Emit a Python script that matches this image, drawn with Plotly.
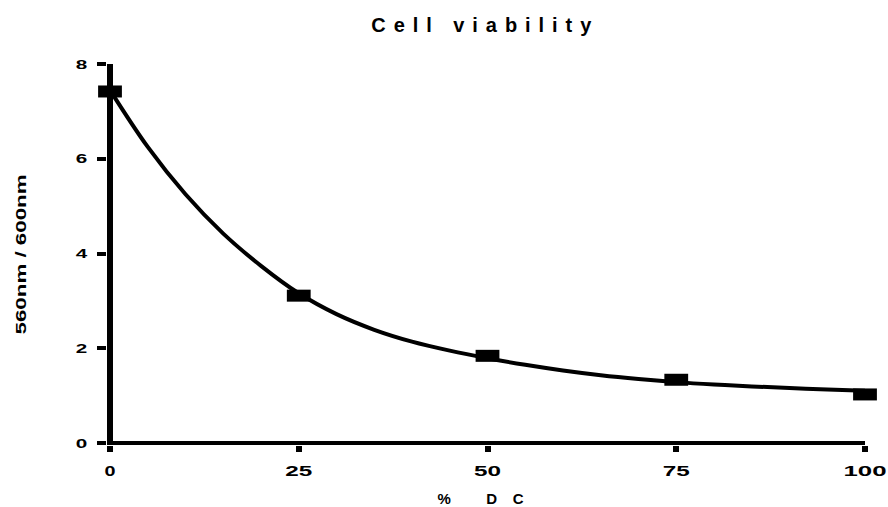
import plotly.graph_objects as go

# ---- data ----
dose = [0, 25, 50, 75, 100]
viability = [7.42, 3.11, 1.84, 1.335, 1.025]

fit_x = [0, 5, 10, 15, 20, 25, 30, 35, 40, 45, 50, 55, 60, 65, 70, 75, 80, 85, 90, 95, 100]
fit_y = [7.45, 6.25, 5.25, 4.42, 3.74, 3.16, 2.72, 2.39, 2.14, 1.95, 1.79, 1.65, 1.53,
         1.43, 1.35, 1.285, 1.235, 1.195, 1.16, 1.13, 1.105]

x_ticks = [0, 25, 50, 75, 100]
y_ticks = [0, 2, 4, 6, 8]

title_text = "Cell viability"
x_title = "% DC"
y_title = "560nm / 600nm"

FONT = "Liberation Sans, Arial, Helvetica, sans-serif"

fig = go.Figure()
fig.add_trace(go.Scatter(
    x=fit_x, y=fit_y, mode="lines",
    line=dict(color="black", width=4, shape="spline", smoothing=1.0),
    hoverinfo="skip", showlegend=False,
))
fig.add_trace(go.Scatter(
    x=dose, y=viability, mode="markers",
    marker=dict(symbol="line-ew", size=17, color="black",
                line=dict(color="black", width=12)),
    cliponaxis=False, showlegend=False,
))

XS = 7.555   # px per x unit
YS = 47.4    # px per y unit

fig.update_layout(
    width=888, height=507,
    paper_bgcolor="white", plot_bgcolor="white",
    margin=dict(l=106.5, r=23, t=63.5, b=62.4, pad=0, autoexpand=False),
    font=dict(family=FONT, color="black", size=14, weight="bold"),
    title=dict(text=title_text, x=0.542, xanchor="center", y=1 - 24.5 / 507,
               yanchor="middle", yref="container",
               font=dict(family=FONT, size=20, color="black", weight="bold")),
    xaxis=dict(
        range=[-3 / XS, 100], tickmode="array", tickvals=x_ticks,
        ticktext=[str(v) for v in x_ticks], automargin=False,
        showline=False, zeroline=True, zerolinecolor="black", zerolinewidth=6,
        ticks="outside", ticklen=6, tickwidth=5.5, tickcolor="black",
        showgrid=False,
        tickfont=dict(family=FONT, size=14, color="black", weight="bold"),
        ticklabelstandoff=7,
    ),
    yaxis=dict(
        range=[-2 / YS, 8], tickmode="array", tickvals=y_ticks,
        ticktext=[str(v) for v in y_ticks], automargin=False,
        showline=False, zeroline=True, zerolinecolor="black", zerolinewidth=4,
        ticks="outside", ticklen=9.2, tickwidth=3.5, tickcolor="black",
        showgrid=False,
        tickfont=dict(family=FONT, size=13, color="black", weight="bold"),
        ticklabelstandoff=7,
        title=dict(text=y_title, standoff=50,
                   font=dict(family=FONT, size=14, color="black", weight="bold")),
    ),
    annotations=[dict(
        text=x_title, xref="paper", yref="paper", x=(480 - 106.5) / 758.5, y=0,
        xanchor="center", yanchor="middle", yshift=-53, showarrow=False,
        font=dict(family=FONT, size=15, color="black", weight="bold"),
    )],
)

post = """
document.body.style.margin = '0';
document.body.style.padding = '0';
var gd = document.getElementById('{plot_id}');
function adj(sel, fn, mode){
  gd.querySelectorAll(sel).forEach(function(t){
    var L = t.getComputedTextLength();
    var n = (t.textContent || '').length;
    var target = fn(L, n);
    t.setAttribute('textLength', target);
    t.setAttribute('lengthAdjust', mode);
  });
}
adj('.xtick text', function(L,n){ return 11 + (n-1)*16; }, 'spacingAndGlyphs');
adj('.ytick text', function(L,n){ return 11.5 + (n-1)*14; }, 'spacingAndGlyphs');
adj('.gtitle', function(L,n){ return 220; }, 'spacing');
adj('.ytitle', function(L,n){ return 160; }, 'spacingAndGlyphs');
adj('.annotation-text', function(L,n){ return 86; }, 'spacing');
"""

fig.write_html("out.html", post_script=post, config={"displayModeBar": False})
